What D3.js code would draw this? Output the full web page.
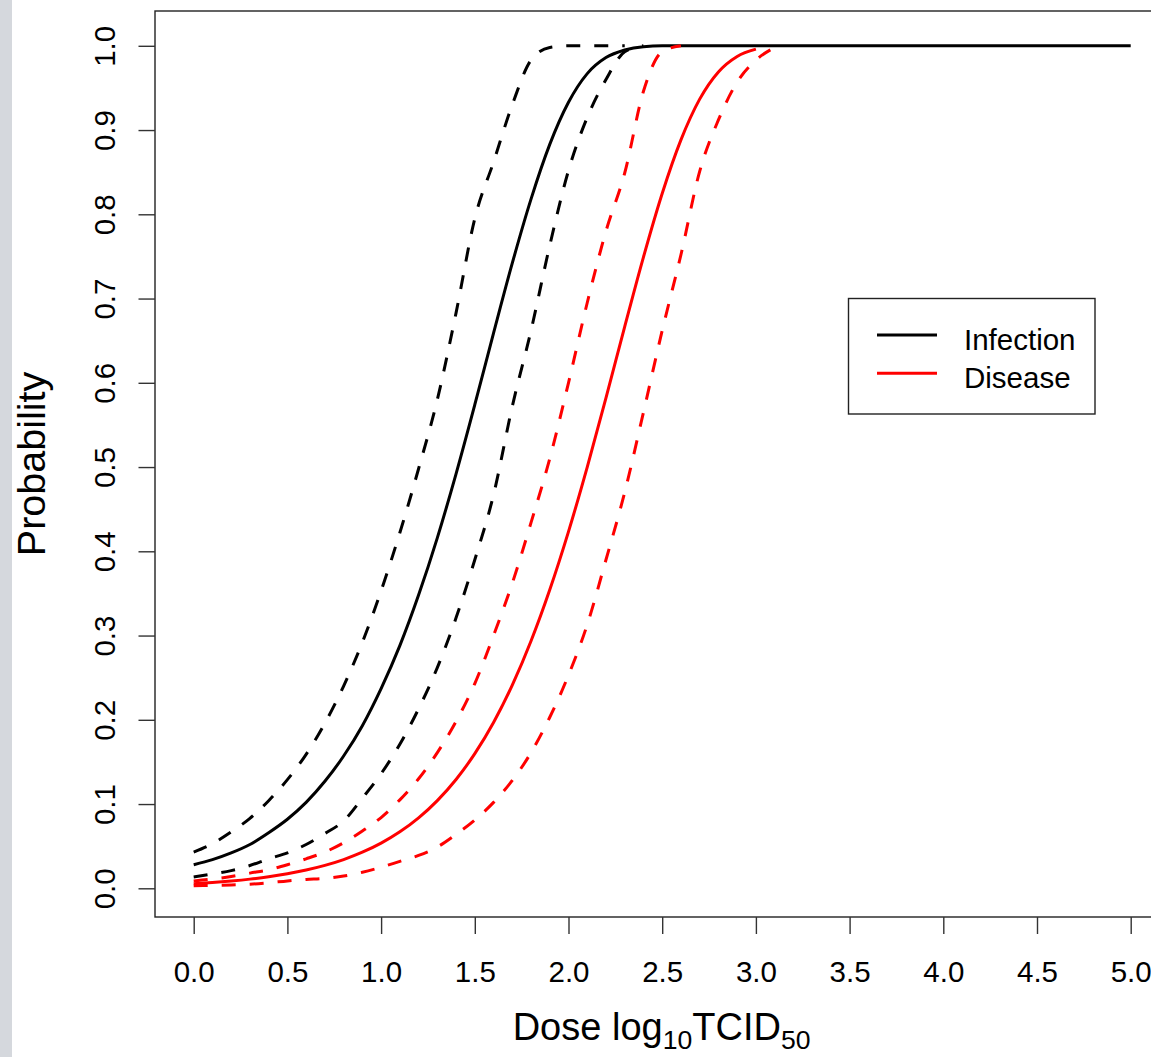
<!DOCTYPE html>
<html>
<head>
<meta charset="utf-8">
<script src="https://cdn.jsdelivr.net/npm/d3@7"></script>
<style>
  body { margin: 0; background: #fff; }
  svg { display: block; }
  text { font-family: "Liberation Sans", Arial, sans-serif; fill: #000; }
</style>
</head>
<body>
<svg id="chart" width="1151" height="1057"></svg>
<script>
// ---------- data ----------
const dose = [0.0,0.1,0.2,0.3,0.4,0.5,0.6,0.7,0.8,0.9,1.0,1.1,1.2,1.3,1.4,1.5,1.6,1.7,1.8,1.9,2.0,2.1,2.2,2.3,2.4,2.5,2.6,2.7,2.8,2.9,3.0,3.1,5.0];

const infectionMean  = [0.028,0.034,0.042,0.052,0.066,0.082,0.102,0.127,0.157,0.193,0.237,0.288,0.348,0.416,0.492,0.574,0.659,0.742,0.818,0.883,0.933,0.967,0.986,0.995,0.999,1.0,1.0,1.0,1.0,1.0,1.0,1.0,1.0];
const infectionUpper = [0.043,0.053,0.067,0.083,0.104,0.129,0.159,0.196,0.240,0.292,0.353,0.422,0.498,0.580,0.683,0.795,0.862,0.930,0.983,0.998,1.0,1.0,1.0,1.0,null,null,null,null,null,null,null,null,null];
const infectionLower = [0.0134,0.017,0.021,0.027,0.035,0.042,0.052,0.065,0.080,0.107,0.136,0.171,0.213,0.262,0.321,0.390,0.467,0.572,0.662,0.763,0.852,0.915,0.960,0.993,1.0,null,null,null,null,null,null,null,null];

const diseaseMean  = [0.0055,0.0069,0.0087,0.0109,0.0137,0.0173,0.0217,0.0272,0.0341,0.0428,0.0536,0.0670,0.0836,0.1041,0.1292,0.1598,0.1968,0.2411,0.2935,0.3543,0.4234,0.5000,0.5822,0.6667,0.7492,0.8247,0.8883,0.9367,0.9690,0.9874,0.9960,null,null];
const diseaseUpper = [0.0088,0.011,0.014,0.018,0.022,0.028,0.035,0.043,0.054,0.068,0.084,0.105,0.130,0.161,0.198,0.243,0.300,0.362,0.434,0.510,0.600,0.695,0.780,0.849,0.946,0.993,1.0,null,null,null,null,null,null];
const diseaseLower = [0.003,0.0035,0.004,0.0048,0.0065,0.0088,0.0105,0.0118,0.0145,0.019,0.025,0.032,0.039,0.049,0.064,0.081,0.102,0.128,0.161,0.203,0.253,0.313,0.390,0.470,0.565,0.662,0.752,0.851,0.912,0.957,0.983,0.998,null];

const xTicks = [0.0,0.5,1.0,1.5,2.0,2.5,3.0,3.5,4.0,4.5,5.0];
const yTicks = [0.0,0.1,0.2,0.3,0.4,0.5,0.6,0.7,0.8,0.9,1.0];
const legendLabels = ["Infection", "Disease"];
const legendColors = ["#000000", "#ff0000"];

// ---------- layout ----------
const svg = d3.select("#chart");
const W = 1151, H = 1057;

svg.append("rect").attr("x", 0).attr("y", 0).attr("width", 12).attr("height", H).attr("fill", "#d5d8dd");

const x = d3.scaleLinear().domain([0, 5]).range([193.7, 1130.7]);
const y = d3.scaleLinear().domain([0, 1]).range([888.3, 45.8]);

const frameLeft = 155, frameTop = 11, frameBottom = 917;
const frameRight = x(5.2);

// ---------- curves ----------
const line = d3.line()
  .defined((d) => d[1] !== null)
  .x((d) => x(d[0]))
  .y((d) => y(d[1]))
  .curve(d3.curveMonotoneX);

const series = [
  { values: infectionMean,  color: "#000", dash: null },
  { values: infectionUpper, color: "#000", dash: "14,14" },
  { values: infectionLower, color: "#000", dash: "14,14" },
  { values: diseaseMean,    color: "#ff0000", dash: null },
  { values: diseaseUpper,   color: "#ff0000", dash: "14,14" },
  { values: diseaseLower,   color: "#ff0000", dash: "14,14" }
];

svg.append("clipPath").attr("id", "plotclip")
  .append("rect").attr("x", frameLeft).attr("y", frameTop)
  .attr("width", frameRight - frameLeft).attr("height", frameBottom - frameTop);

const plot = svg.append("g").attr("clip-path", "url(#plotclip)");
series.forEach((s) => {
  const pts = dose.map((d, i) => [d, s.values[i]]);
  plot.append("path")
    .datum(pts)
    .attr("d", line)
    .attr("fill", "none")
    .attr("stroke", s.color)
    .attr("stroke-width", 3)
    .attr("stroke-linejoin", "round")
    .attr("stroke-dasharray", s.dash);
});

// ---------- frame ----------
svg.append("rect")
  .attr("x", frameLeft).attr("y", frameTop)
  .attr("width", frameRight - frameLeft).attr("height", frameBottom - frameTop)
  .attr("fill", "none").attr("stroke", "#222").attr("stroke-width", 1.4);

// ---------- axes ----------
const fmt = d3.format(".1f");
const tickFont = 29.5;

const xAxis = svg.append("g")
  .attr("transform", `translate(0,${frameBottom})`)
  .call(d3.axisBottom(x).tickValues(xTicks).tickSize(17).tickFormat(fmt));
xAxis.select(".domain").remove();
xAxis.selectAll(".tick line").attr("stroke", "#333").attr("stroke-width", 1.4);
xAxis.selectAll(".tick text")
  .attr("y", 65).attr("dy", null)
  .attr("font-size", tickFont)
  .attr("font-family", "Liberation Sans, Arial, sans-serif")
  .attr("fill", "#111");

const yAxis = svg.append("g")
  .attr("transform", `translate(${frameLeft},0)`)
  .call(d3.axisLeft(y).tickValues(yTicks).tickSize(16.5).tickFormat(fmt));
yAxis.select(".domain").remove();
yAxis.selectAll(".tick line").attr("stroke", "#333").attr("stroke-width", 1.4);
yAxis.selectAll(".tick text")
  .attr("transform", "rotate(-90)")
  .attr("x", 0).attr("y", -40).attr("dy", null)
  .attr("text-anchor", "middle")
  .attr("font-size", tickFont)
  .attr("font-family", "Liberation Sans, Arial, sans-serif")
  .attr("fill", "#111");

// ---------- axis titles ----------
const xt = svg.append("text")
  .attr("x", (frameLeft + frameRight) / 2)
  .attr("y", 1040)
  .attr("text-anchor", "middle")
  .attr("font-size", 38);
xt.append("tspan").text("Dose log");
xt.append("tspan").attr("font-size", 26.6).attr("dy", 9).text("10");
xt.append("tspan").attr("dy", -9).text("TCID");
xt.append("tspan").attr("font-size", 26.6).attr("dy", 9).text("50");

svg.append("text")
  .attr("transform", `translate(45,${(frameTop + frameBottom) / 2}) rotate(-90)`)
  .attr("text-anchor", "middle")
  .attr("font-size", 39.5)
  .text("Probability");

// ---------- legend ----------
const lg = svg.append("g");
lg.append("rect")
  .attr("x", 848.5).attr("y", 298.5).attr("width", 246.5).attr("height", 115.5)
  .attr("fill", "#fff").attr("stroke", "#222").attr("stroke-width", 1.4);
legendLabels.forEach((lab, i) => {
  const ly = 335 + i * 38.3;
  lg.append("line")
    .attr("x1", 877).attr("x2", 937).attr("y1", ly).attr("y2", ly)
    .attr("stroke", legendColors[i]).attr("stroke-width", 3);
  lg.append("text")
    .attr("x", 964).attr("y", ly + 15)
    .attr("font-size", 29.5)
    .text(lab);
});
</script>
</body>
</html>
